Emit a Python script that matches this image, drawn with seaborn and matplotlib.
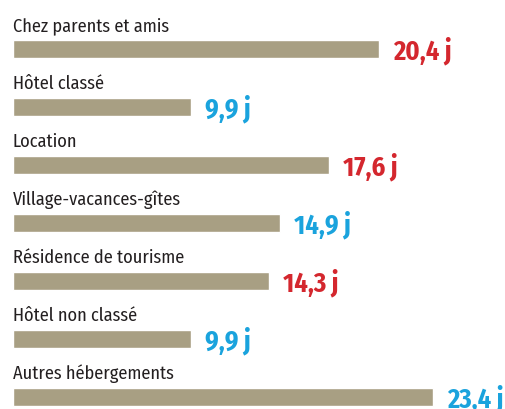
import matplotlib
matplotlib.use("Agg")
import matplotlib.pyplot as plt
import seaborn as sns
import pandas as pd

categories = ["Chez parents et amis", "Hôtel classé", "Location",
              "Village-vacances-gîtes", "Résidence de tourisme",
              "Hôtel non classé", "Autres hébergements"]
values = [20.4, 9.9, 17.6, 14.9, 14.3, 9.9, 23.4]
value_labels = ["20,4 j", "9,9 j", "17,6 j", "14,9 j", "14,3 j", "9,9 j", "23,4 j"]
label_colors = ["red", "blue", "red", "blue", "red", "blue", "blue"]

RED = "#D4272E"
BLUE = "#1AA3DD"
BAR = "#A89F83"

sns.set_theme(style="white")
plt.rcParams["font.family"] = ["Fira Sans Condensed", "DejaVu Sans"]

df = pd.DataFrame({"cat": categories, "val": values})

W, H = 506, 410
fig = plt.figure(figsize=(W / 100, H / 100), dpi=100)
left_px = 13
ax = fig.add_axes([left_px / W, 0, 1 - left_px / W, 1])

sns.barplot(data=df, y="cat", x="val", orient="h", color=BAR,
            width=18 / 58, saturation=1, ax=ax)

px_per_unit = 17.93
ax.set_xlim(0, (W - left_px) / px_per_unit)
ax.set_ylim((H - 50) / 58, -50 / 58)
ax.axis("off")

for i, (c, v, lab, col) in enumerate(zip(categories, values, value_labels, label_colors)):
    ax.text(0, i - 18.5 / 58, c, fontsize=13.2, color="#231F20",
            va="baseline", ha="left")
    ax.text(v + 14 / px_per_unit, i + 9 / 58, lab, fontsize=19, fontweight="bold",
            color=RED if col == "red" else BLUE, va="baseline", ha="left")

fig.savefig("out.png", dpi=100)
